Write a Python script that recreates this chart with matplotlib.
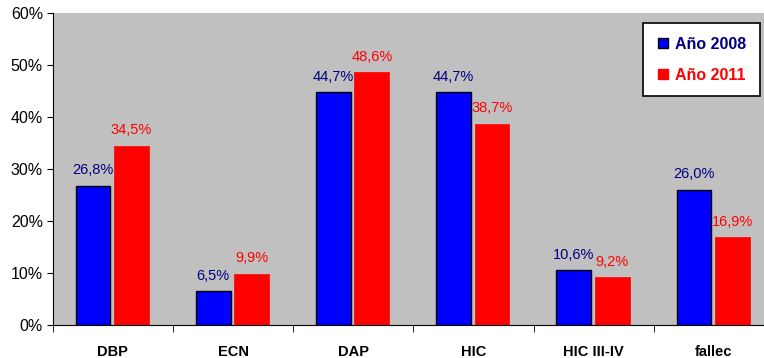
import numpy as np
import matplotlib
matplotlib.use("Agg")
import matplotlib.pyplot as plt
from matplotlib.lines import Line2D

plt.rcParams["font.family"] = ["Liberation Sans", "DejaVu Sans"]

# ---------- Data ----------

categories = ["DBP", "ECN", "DAP", "HIC", "HIC III-IV", "fallec"]
year_2008 = [26.8, 6.5, 44.7, 44.7, 10.6, 26.0]
year_2011 = [34.5, 9.9, 48.6, 38.7, 9.2, 16.9]
series_names = ["Año 2008", "Año 2011"]

blue = "#0000FF"
red = "#FF0000"
navy = "#000080"

# ---------- Figure ----------

fig = plt.figure(figsize=(7.64, 3.58), dpi=100)
ax = fig.add_axes([0.069, 0.092, 0.944, 0.872])
ax.set_facecolor("#C0C0C0")

x = np.arange(len(categories))
w = 0.29

b1 = ax.bar(x - 0.165, year_2008, w, color=blue, edgecolor="black", linewidth=1.0)
b2 = ax.bar(x + 0.155, year_2011, w, color=red, edgecolor=red, linewidth=0.5)

for rect, v in zip(b1, year_2008):
    ax.text(rect.get_x() + rect.get_width() / 2, v + 1.6, f"{v:.1f}%".replace(".", ","),
            ha="center", va="bottom", fontsize=10.5, color=navy)
for rect, v in zip(b2, year_2011):
    ax.text(rect.get_x() + rect.get_width() / 2, v + 1.6, f"{v:.1f}%".replace(".", ","),
            ha="center", va="bottom", fontsize=10.5, color=red)

ax.set_xlim(-0.5, len(categories) - 0.5)
ax.set_ylim(0, 60)
ax.set_yticks(range(0, 61, 10))
ax.set_yticklabels([f"{t}%" for t in range(0, 61, 10)], fontsize=11.5)

# category labels centred, ticks at the boundaries
ax.set_xticks(x)
ax.set_xticklabels(categories, fontsize=10.5, fontweight="bold")
ax.tick_params(axis="x", length=0, pad=14)
ax.set_xticks(np.arange(len(categories) + 1) - 0.5, minor=True)
ax.tick_params(axis="x", which="minor", length=5, direction="out")
ax.tick_params(axis="y", length=4, direction="out", pad=3)

for side in ["top", "right"]:
    ax.spines[side].set_visible(False)
ax.spines["left"].set_color("black")
ax.spines["bottom"].set_color("black")

handles = [
    Line2D([], [], marker="s", linestyle="none", markersize=7.5,
           markerfacecolor=blue, markeredgecolor="black"),
    Line2D([], [], marker="s", linestyle="none", markersize=7.5,
           markerfacecolor=red, markeredgecolor=red),
]
leg = fig.legend(handles, series_names, loc="upper right",
                 bbox_to_anchor=(0.999, 0.944), frameon=True, fancybox=False,
                 edgecolor="black", framealpha=1, handletextpad=0.35,
                 borderpad=0.85, labelspacing=1.0, handlelength=0.8,
                 borderaxespad=0.2, prop={"weight": "bold", "size": 11.5})
leg.get_frame().set_linewidth(1.2)
for txt, c in zip(leg.get_texts(), [navy, red]):
    txt.set_color(c)

fig.savefig("out.png", dpi=100)
